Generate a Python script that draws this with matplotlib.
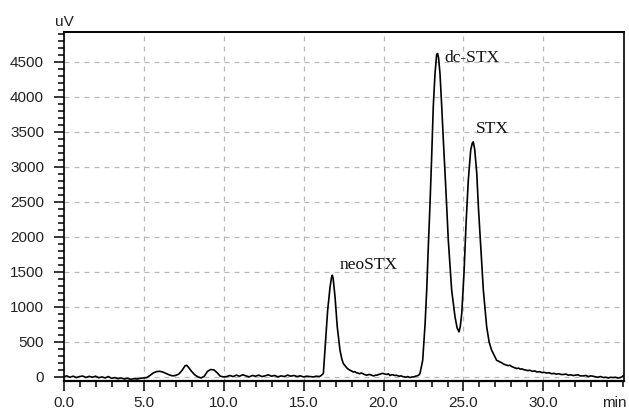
import matplotlib
matplotlib.use("Agg")
import matplotlib.pyplot as plt
from matplotlib.ticker import MultipleLocator, FixedLocator

# ---- data (time in min, signal in uV) ----
time_min = [
    0.0, 0.2, 0.4, 0.6, 0.8, 1.0, 1.2, 1.4, 1.6, 1.8, 2.0, 2.2, 2.4, 2.6, 2.8,
    3.0, 3.2, 3.4, 3.6, 3.8, 4.0, 4.2, 4.4, 4.6, 4.8, 5.0,
    5.2, 5.4, 5.6, 5.8, 6.0, 6.2, 6.4, 6.6, 6.8, 7.0, 7.2, 7.4, 7.6, 7.7, 7.8,
    8.0, 8.2, 8.4, 8.6, 8.8, 9.0, 9.2, 9.4, 9.6, 9.8, 10.0, 10.2,
    10.4, 10.6, 10.8, 11.0, 11.2, 11.4, 11.6, 11.8, 12.0, 12.2, 12.4, 12.6, 12.8,
    13.0, 13.2, 13.4, 13.6, 13.8, 14.0, 14.2, 14.4, 14.6, 14.8, 15.0, 15.2, 15.4,
    15.6, 15.8, 16.0,
    16.1, 16.24, 16.34, 16.45, 16.51, 16.66, 16.75, 16.8, 16.85, 16.97, 17.11,
    17.28, 17.4, 17.49, 17.6, 17.7, 17.8, 17.9, 18.0, 18.1, 18.2, 18.3, 18.4, 18.5,
    18.6, 18.7, 18.8, 18.95, 19.1, 19.2, 19.3, 19.4, 19.5, 19.6, 19.7, 19.8, 19.9,
    20.0, 20.1, 20.2, 20.3, 20.4, 20.5, 20.6, 20.7, 20.8, 20.9, 21.0, 21.1, 21.2,
    21.3, 21.4, 21.5, 21.66, 21.8, 21.9, 22.0, 22.1, 22.2,
    22.28, 22.45, 22.6, 22.7, 22.8, 22.9, 23.01, 23.11, 23.22, 23.32, 23.38,
    23.44, 23.53, 23.64, 23.74, 23.9, 24.05, 24.26, 24.47, 24.6, 24.72, 24.8,
    24.89, 25.03, 25.16, 25.3, 25.45, 25.55, 25.61, 25.7, 25.83, 25.93, 26.08,
    26.24, 26.45, 26.6, 26.76, 26.86, 26.95, 27.07, 27.18, 27.28, 27.4, 27.5,
    27.6, 27.7, 27.8, 27.9, 28.0, 28.1, 28.2, 28.33, 28.45, 28.55, 28.65, 28.74,
    28.85, 29.0, 29.15, 29.3, 29.45, 29.6, 29.75, 29.9, 30.05, 30.2, 30.35, 30.5,
    30.65, 30.8, 30.95, 31.1, 31.24, 31.4, 31.55, 31.7, 31.85, 32.0, 32.15, 32.3,
    32.49, 32.65, 32.8, 32.95, 33.1, 33.25, 33.4, 33.55, 33.74, 33.9, 34.05, 34.2,
    34.35, 34.5, 34.65, 34.8, 34.9, 35.0,
]
signal_uv = [
    0, 15, -5, 10, -10, 5, 12, -8, 8, -5, 10, -12, 0, -15, 5,
    -20, -10, -25, -15, -30, -20, -35, -25, -30, -20, -15,
    -10, 20, 55, 75, 80, 70, 50, 30, 15, 20, 40, 90, 160, 165, 140,
    80, 30, 0, -15, 10, 80, 105, 100, 60, 10, 0, 5,
    20, 5, 25, 10, 30, 15, 0, 20, 10, 25, 5, 15, 30,
    10, 20, 0, 15, 5, 25, 10, 20, 5, 15, 0, 10, 5,
    0, 10, 5,
    20, 48, 381, 750, 953, 1286, 1420, 1453, 1410, 1143, 714,
    381, 250, 191, 160, 130, 110, 96, 85, 70, 75, 60, 55, 45,
    55, 48, 35, 24, 35, 30, 20, 14, 25, 25, 35, 40, 50,
    48, 40, 35, 45, 20, 30, 30, 20, 24, 15, 10, 15, 5,
    0, -5, 5, -9, 0, 0, 10, 15, 25,
    48, 238, 762, 1238, 1857, 2429, 3143, 3857, 4334, 4600, 4620,
    4560, 4334, 3857, 3381, 2667, 1953, 1239, 857, 700, 643, 720,
    905, 1477, 2191, 2810, 3239, 3340, 3357, 3250, 2906, 2429, 1857,
    1239, 714, 500, 381, 334, 290, 238, 225, 214, 200, 185,
    175, 167, 160, 167, 150, 140, 130, 120, 125, 110, 115, 105,
    100, 90, 95, 80, 85, 70, 75, 62, 65, 55, 60, 45,
    50, 40, 45, 35, 34, 40, 25, 30, 20, 25, 30, 15,
    14, 20, 5, 15, 10, 0, -5, 5, -9, -5, -15, -5,
    -10, -5, -15, -10, 0, 20,
]

x_major = [0.0, 5.0, 10.0, 15.0, 20.0, 25.0, 30.0]
x_labels = ["0.0", "5.0", "10.0", "15.0", "20.0", "25.0", "30.0"]
y_major = [0, 500, 1000, 1500, 2000, 2500, 3000, 3500, 4000, 4500]

peak_names = ["neoSTX", "dc-STX", "STX"]
peak_label_x = [17.28, 23.8, 25.78]
peak_label_y = [1534, 4500, 3486]

# ---- figure ----
fig = plt.figure(figsize=(6.29, 4.12), dpi=100)
ax = fig.add_axes([0.101, 0.075, 0.891, 0.848])

ax.plot(time_min, signal_uv, color="black", lw=1.2, zorder=3)

ax.set_xlim(0, 35.03)
ax.set_ylim(-60, 4930)

ax.set_xticks(x_major)
ax.set_xticklabels(x_labels)
ax.xaxis.set_minor_locator(MultipleLocator(1.0))
ax.set_yticks(y_major)
ax.yaxis.set_minor_locator(MultipleLocator(100))

for lab in ax.get_xticklabels() + ax.get_yticklabels():
    lab.set_fontfamily("Liberation Sans")
    lab.set_fontsize(11)
    lab.set_color("#222222")

ax.tick_params(axis="both", which="major", direction="out", length=7, width=1.1, color="black")
ax.tick_params(axis="both", which="minor", direction="out", length=4, width=1.1, color="black")
ax.tick_params(axis="x", which="major", pad=4)
ax.tick_params(axis="y", which="major", pad=7)

ax.grid(True, which="major", color="#b8b8b8", linestyle=(0, (4, 4)), linewidth=0.9, zorder=1)

for side in ["left", "bottom", "top", "right"]:
    ax.spines[side].set_color("black")
ax.spines["left"].set_linewidth(1.2)
ax.spines["bottom"].set_linewidth(1.6)
ax.spines["top"].set_linewidth(1.4)
ax.spines["right"].set_linewidth(1.2)

for name, px, py in zip(peak_names, peak_label_x, peak_label_y):
    ax.text(px, py, name, family="Liberation Serif", fontsize=12.5,
            ha="left", va="baseline", color="#111111", zorder=4)

fig.text(64 / 629, 1 - 22 / 412, "uV", family="Liberation Sans", fontsize=11,
         ha="center", va="center", color="#222222")
fig.text(614 / 629, 1 - 403 / 412, "min", family="Liberation Sans", fontsize=11,
         ha="center", va="center", color="#222222")

fig.savefig("out.png", dpi=100)
